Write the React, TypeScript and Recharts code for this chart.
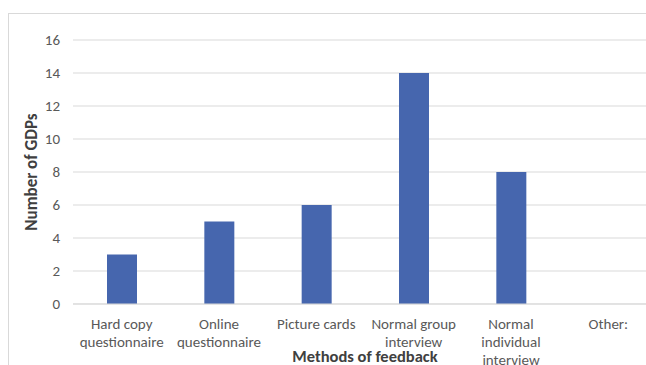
import React from "react";
import { BarChart, Bar, XAxis, YAxis, CartesianGrid, Label } from "recharts";

const categories = [
  "Hard copy\nquestionnaire",
  "Online\nquestionnaire",
  "Picture cards",
  "Normal group\ninterview",
  "Normal\nindividual\ninterview",
  "Other:",
];
const gdpCounts = [3, 5, 6, 14, 8, 0];
const yTicks = [0, 2, 4, 6, 8, 10, 12, 14, 16];
const xTitle = "Methods of feedback";
const yTitle = "Number of GDPs";

const data = categories.map((c, i) => ({ name: c, value: gdpCounts[i] }));

const FONT = "Carlito, Calibri, Lato, 'Noto Sans', sans-serif";

const CatTick = (props: any) => {
  const { x, y, payload } = props;
  const lines = String(payload.value).split("\n");
  return (
    <g>
      {lines.map((l, i) => (
        <text
          key={i}
          x={x}
          y={y + 25 + i * 18}
          textAnchor="middle"
          fill="#595959"
          fontSize={15}
          fontFamily={FONT}
        >
          {l}
        </text>
      ))}
    </g>
  );
};

export default function App() {
  return (
    <div style={{ paddingTop: 13, paddingLeft: 8 }}>
      <style>{`html,body{margin:0;overflow:hidden;}`}</style>
      <div
        style={{
          width: 637,
          height: 351,
          overflow: "hidden",
          borderLeft: "1px solid #d9d9d9",
          borderTop: "1px solid #d9d9d9",
          background: "#fff",
        }}
      >
        <BarChart
          width={660}
          height={360}
          data={data}
          margin={{ top: 26, right: 12, left: 0, bottom: 0 }}
          barSize={30}
        >
          <CartesianGrid vertical={false} stroke="#d9d9d9" />
          <XAxis
            dataKey="name"
            height={70}
            tickLine={false}
            tickSize={0}
            tickMargin={0}
            axisLine={{ stroke: "#d9d9d9" }}
            tick={<CatTick />}
            interval={0}
          >
            <Label
              content={(p: any) => {
                const vb = p.viewBox;
                return (
                  <text
                    x={vb.x + vb.width / 2}
                    y={vb.y + 58}
                    textAnchor="middle"
                    fill="#404040"
                    fontSize={16.5}
                    fontWeight="bold"
                    fontFamily={FONT}
                  >
                    {xTitle}
                  </text>
                );
              }}
            />
          </XAxis>
          <YAxis
            width={64}
            domain={[0, 16]}
            ticks={yTicks}
            tickLine={false}
            axisLine={false}
            tickSize={0}
            tickMargin={13}
            tick={{ fill: "#595959", fontSize: 15, fontFamily: FONT }}
          >
            <Label
              content={(p: any) => {
                const vb = p.viewBox;
                const cx = vb.x + 22;
                const cy = vb.y + vb.height / 2;
                return (
                  <text
                    x={cx}
                    y={cy}
                    transform={`rotate(-90 ${cx} ${cy})`}
                    textAnchor="middle"
                    dominantBaseline="central"
                    fill="#404040"
                    fontSize={17}
                    fontWeight="bold"
                    fontFamily={FONT}
                  >
                    {yTitle}
                  </text>
                );
              }}
            />
          </YAxis>
          <Bar dataKey="value" fill="#4666ae" isAnimationActive={false} />
        </BarChart>
      </div>
    </div>
  );
}
